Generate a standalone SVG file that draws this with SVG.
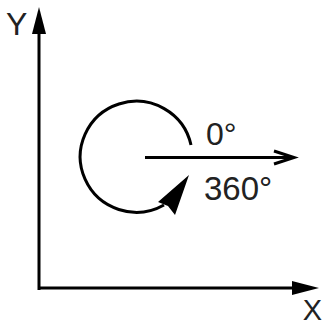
<svg xmlns="http://www.w3.org/2000/svg" width="326" height="327" viewBox="0 0 326 327">
<style>
.ln{fill:none;stroke:#000;stroke-width:3}
.t{font-family:"Liberation Sans",Arial,sans-serif;fill:#222}
</style>
<rect width="326" height="327" fill="#fff"/>
<g id="connectors">
<path class="ln" d="M39,290 V30"/>
<polygon points="39,7 32,34 46,34" fill="#000"/>
<path class="ln" d="M38,288 H296"/>
<polygon points="319,288 292,281 292,295" fill="#000"/>
<path class="ln" d="M145,157.5 H293"/>
<path class="ln" d="M274,151 L294,157.5 L274,164"/>
<path class="ln" d="M191,145 A56,55.5 0 1 0 164,205"/>
<polygon points="189,175 158,202 168,206 175,215" fill="#000"/>
</g>
<g id="labels">
<text class="t" x="6" y="35" font-size="32">Y</text>
<text class="t" x="322" y="320" font-size="29" text-anchor="end">X</text>
<text class="t" x="206" y="145" font-size="32">0°</text>
<text class="t" x="204" y="200" font-size="33">360°</text>
</g>
</svg>
